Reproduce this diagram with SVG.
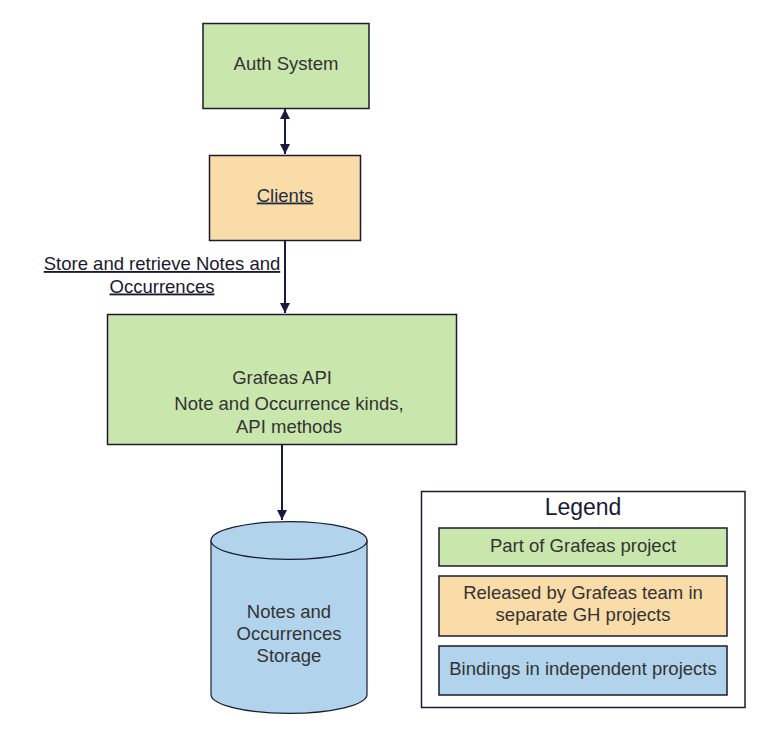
<svg xmlns="http://www.w3.org/2000/svg" width="770" height="737" viewBox="0 0 770 737">
<defs>
<marker id="ah" viewBox="0 0 10 10" refX="10" refY="5" markerWidth="5" markerHeight="5" orient="auto-start-reverse" markerUnits="strokeWidth">
<path d="M0,0 L10,5 L0,10 Z" fill="#1a1a40"/>
</marker>
<style>
.box{stroke:#1a1a33;stroke-width:1.5}
.green{fill:#c9e7ac}
.orange{fill:#fadca8}
.blue{fill:#b1d4ec}
.t{font-family:"Liberation Sans",Arial,sans-serif;font-size:18.5px;fill:#333333;text-anchor:middle}
.conn{stroke:#1a1a40;stroke-width:2;fill:none}
</style>
</defs>
<rect width="770" height="737" fill="#ffffff"/>
<g id="connectors">
<line class="conn" x1="285" y1="109" x2="285" y2="154" marker-start="url(#ah)" marker-end="url(#ah)"/>
<line class="conn" x1="285" y1="241" x2="285" y2="313" marker-end="url(#ah)"/>
<line class="conn" x1="282" y1="445" x2="282" y2="520" marker-end="url(#ah)"/>
<text class="t" x="162" y="270" style="fill:#1a1a2e;text-decoration:underline">Store and retrieve Notes and</text>
<text class="t" x="162" y="292.5" style="fill:#1a1a2e;text-decoration:underline">Occurrences</text>
</g>
<g id="auth">
<rect class="box green" x="203" y="23.5" width="166" height="85"/>
<text class="t" x="286" y="70">Auth System</text>
</g>
<g id="clients">
<rect class="box orange" x="209.5" y="155.5" width="151" height="85"/>
<text class="t" x="285" y="201.5" style="fill:#1f2f3f;text-decoration:underline">Clients</text>
</g>
<g id="grafeas">
<rect class="box green" x="107.5" y="314.5" width="349" height="130"/>
<text class="t" x="282" y="383.5">Grafeas API</text>
<text class="t" x="289" y="410">Note and Occurrence kinds,</text>
<text class="t" x="289" y="432.5">API methods</text>
</g>
<g id="storage">
<path class="blue" d="M211,540.5 L211,694.5 A78,18.8 0 0 0 367,694.5 L367,540.5 Z" stroke="#1a1a33" stroke-width="1.2"/>
<ellipse class="blue" cx="289" cy="540.5" rx="78" ry="18.8" stroke="#1a1a33" stroke-width="1.2"/>
<text class="t" x="289" y="617.5">Notes and</text>
<text class="t" x="289" y="640">Occurrences</text>
<text class="t" x="289" y="662">Storage</text>
</g>
<g id="legend">
<rect x="421.5" y="491.5" width="323.5" height="216" fill="#ffffff" stroke="#1a1a33" stroke-width="1.5"/>
<text class="t" x="583" y="515" style="font-size:23px;fill:#1a1a33">Legend</text>
<rect class="box green" x="439" y="528" width="288" height="38"/>
<text class="t" x="583" y="551.5">Part of Grafeas project</text>
<rect class="box orange" x="439" y="576" width="288" height="60"/>
<text class="t" x="583" y="599">Released by Grafeas team in</text>
<text class="t" x="583" y="621">separate GH projects</text>
<rect class="box blue" x="439" y="646" width="288" height="49"/>
<text class="t" x="583" y="674.5">Bindings in independent projects</text>
</g>
</svg>
